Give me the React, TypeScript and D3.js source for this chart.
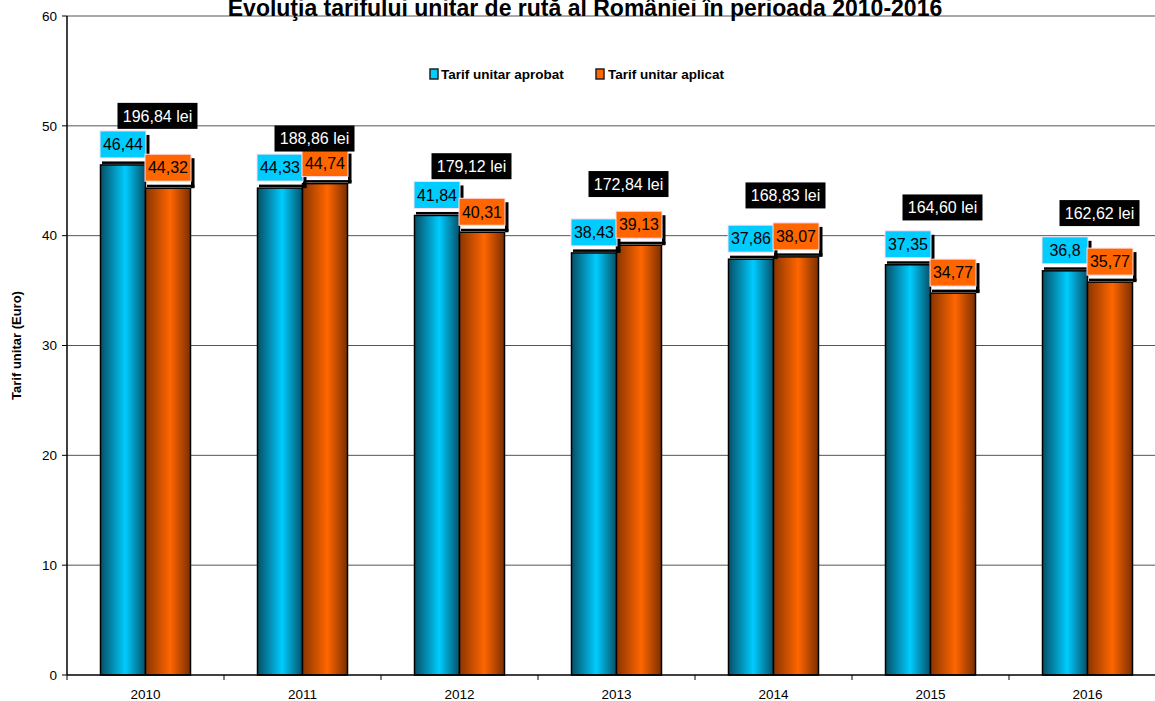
import React from "react";
import * as d3 from "d3";

const years = ["2010", "2011", "2012", "2013", "2014", "2015", "2016"];
const aprobat = [46.44, 44.33, 41.84, 38.43, 37.86, 37.35, 36.8];
const aplicat = [44.32, 44.74, 40.31, 39.13, 38.07, 34.77, 35.77];
const lei = [196.84, 188.86, 179.12, 172.84, 168.83, 164.6, 162.62];
const yTicks = [0, 10, 20, 30, 40, 50, 60];

const W = 1155;
const H = 701;
const FONT = "Arial, 'Liberation Sans', sans-serif";

const fmt = (v: number) => String(v).replace(".", ",");
const fmtLei = (v: number) => v.toFixed(2).replace(".", ",") + " lei";

export default function App() {
  const left = 67;
  const top = 16;
  const bottom = 675;
  const plotRight = 1166;

  const x = d3.scaleBand<string>().domain(years).range([left, plotRight]).padding(0);
  const y = d3.scaleLinear().domain([0, 60]).range([bottom, top]);
  const yLei = d3.scaleLinear().domain([0, 232]).range([bottom, top]);

  const barW = 45;
  const bw = x.bandwidth();
  const series = [
    { vals: aprobat, grad: "gBlue", fill: "#00ccff", off: 0 },
    { vals: aplicat, grad: "gOrange", fill: "#ff6600", off: 1 },
  ];

  const labelH = 27;
  const labelW = 46;

  return (
    <div style={{ position: "absolute", left: 0, top: 0 }}>
      <svg width={W} height={H} style={{ display: "block", background: "#fff" }} fontFamily={FONT}>
        <defs>
          <linearGradient id="gBlue" x1="0" x2="1" y1="0" y2="0">
            <stop offset="0%" stopColor="#064f66" />
            <stop offset="55%" stopColor="#00ccff" />
            <stop offset="100%" stopColor="#055068" />
          </linearGradient>
          <linearGradient id="gOrange" x1="0" x2="1" y1="0" y2="0">
            <stop offset="0%" stopColor="#8a3500" />
            <stop offset="55%" stopColor="#ff6600" />
            <stop offset="100%" stopColor="#7a2e00" />
          </linearGradient>
        </defs>

        {/* gridlines */}
        {yTicks.filter((t) => t > 0).map((t) => (
          <line key={t} x1={left} x2={W} y1={y(t)} y2={y(t)} stroke="#555" strokeWidth={1} />
        ))}

        {/* bars */}
        {series.map((s) =>
          s.vals.map((v, i) => {
            const bx = (x(years[i]) as number) + (bw - 2 * barW) / 2 + s.off * barW;
            return (
              <rect
                key={s.grad + i}
                x={bx}
                y={y(v)}
                width={barW}
                height={bottom - y(v)}
                fill={`url(#${s.grad})`}
                stroke="#000"
                strokeWidth={1.5}
              />
            );
          })
        )}

        {/* axes */}
        <line x1={left} x2={left} y1={top} y2={bottom} stroke="#000" strokeWidth={1.5} />
        <line x1={left} x2={W} y1={bottom} y2={bottom} stroke="#000" strokeWidth={1.5} />
        {yTicks.map((t) => (
          <g key={"yt" + t}>
            <line x1={left - 5} x2={left} y1={y(t)} y2={y(t)} stroke="#000" />
            <text x={left - 10} y={y(t)} dy="0.35em" textAnchor="end" fontSize={13.5}>
              {t}
            </text>
          </g>
        ))}
        {years.map((yr) => (
          <g key={"xt" + yr}>
            <line x1={x(yr) as number} x2={x(yr) as number} y1={bottom} y2={bottom + 5} stroke="#000" />
            <text x={(x(yr) as number) + bw / 2} y={bottom + 24} textAnchor="middle" fontSize={13.5}>
              {yr}
            </text>
          </g>
        ))}

        {/* value labels */}
        {series.map((s) =>
          s.vals.map((v, i) => {
            const bx = (x(years[i]) as number) + (bw - 2 * barW) / 2 + s.off * barW;
            const cx = bx + barW / 2;
            const lx = cx - labelW / 2;
            const ly = y(v) - 7 - labelH;
            return (
              <g key={"lbl" + s.grad + i}>
                <rect x={lx + labelW} y={ly + 4} width={3.5} height={labelH + 3} fill="#000" />
                <rect x={lx + 2} y={y(v) - 3.5} width={labelW + 1.5} height={2.5} fill="#000" />
                <rect x={lx} y={ly} width={labelW} height={labelH} fill={s.fill} stroke="#fde" strokeWidth={1} />
                <text x={cx} y={ly + labelH / 2} dy="0.36em" textAnchor="middle" fontSize={16} fill="#000">
                  {fmt(v)}
                </text>
              </g>
            );
          })
        )}

        {/* lei labels */}
        {lei.map((v, i) => {
          const cx = (x(years[i]) as number) + bw / 2 + 12;
          const cy = yLei(v);
          const txt = fmtLei(v);
          const boxW = 80;
          return (
            <g key={"lei" + i}>
              <rect x={cx - boxW / 2} y={cy - 13} width={boxW} height={26} fill="#000" />
              <text x={cx} y={cy} dy="0.36em" textAnchor="middle" fontSize={16} fill="#fff">
                {txt}
              </text>
            </g>
          );
        })}

        {/* title */}
        <text x={585} y={16} textAnchor="middle" fontSize={23} fontWeight="bold">
          Evoluţia tarifului unitar de rută al României în perioada 2010-2016
        </text>

        {/* legend */}
        <g fontSize={13.5} fontWeight="bold">
          <rect x={430} y={69} width={8} height={10} fill="#00ccff" stroke="#222" strokeWidth={1.5} />
          <text x={441} y={74} dy="0.36em">Tarif unitar aprobat</text>
          <rect x={596} y={69} width={8} height={10} fill="#ff6600" stroke="#222" strokeWidth={1.5} />
          <text x={608} y={74} dy="0.36em">Tarif unitar aplicat</text>
        </g>

        {/* y title */}
        <text
          transform={`translate(21,${(top + bottom) / 2}) rotate(-90)`}
          textAnchor="middle"
          fontSize={13}
          fontWeight="bold"
        >
          Tarif unitar (Euro)
        </text>
      </svg>
    </div>
  );
}
